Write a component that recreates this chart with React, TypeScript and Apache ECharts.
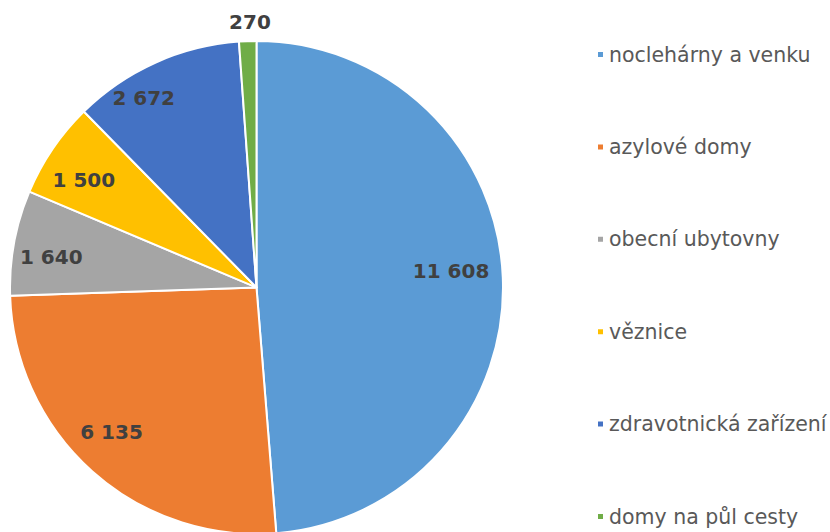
import React, { useEffect, useRef } from "react";
import * as echarts from "echarts";

const categories = [
  "noclehárny a venku",
  "azylové domy",
  "obecní ubytovny",
  "věznice",
  "zdravotnická zařízení",
  "domy na půl cesty",
];
const values = [11608, 6135, 1640, 1500, 2672, 270];
const colors = ["#5B9BD5", "#ED7D31", "#A5A5A5", "#FFC000", "#4472C4", "#70AD47"];
const labelOffsets = [[-14, -8], [-6, -11], [0, 8], [0, 10], [-27, 1], [3, 3]];
const outsideLabelIndex = 5;

const fmt = (v: number) => String(v).replace(/\B(?=(\d{3})+(?!\d))/g, " ");

export default function App() {
  const ref = useRef<HTMLDivElement>(null);
  useEffect(() => {
    if (!ref.current) return;
    const chart = echarts.init(ref.current, null, { renderer: "svg" });
    const center = [256.5, 287.5];
    const labelStyle = {
      fontFamily: "DejaVu Sans",
      fontSize: 20,
      fontWeight: "bold" as const,
      color: "#404040",
    };
    const mainData = categories.map((name, i) => ({
      name,
      value: values[i],
      itemStyle: { color: colors[i] },
    }));
    const overlayData = (show: (i: number) => boolean) =>
      categories.map((name, i) => ({
        name,
        value: values[i],
        itemStyle: { color: "transparent", borderWidth: 0 },
        label: { show: show(i), offset: labelOffsets[i] },
      }));
    chart.setOption({
      animation: false,
      legend: {
        orient: "vertical",
        left: 596,
        top: 44,
        padding: 0,
        itemWidth: 7,
        itemHeight: 7,
        itemGap: 71.4,
        icon: "rect",
        data: categories,
        textStyle: {
          fontFamily: "DejaVu Sans",
          fontSize: 20.5,
          lineHeight: 20,
          color: "#595959",
        },
      },
      series: [
        {
          type: "pie",
          center,
          radius: [0, 246.5],
          startAngle: 90,
          clockwise: true,
          silent: true,
          label: { show: false },
          labelLine: { show: false },
          itemStyle: { borderColor: "#ffffff", borderWidth: 2 },
          emphasis: { disabled: true },
          data: mainData,
        },
        {
          type: "pie",
          center,
          radius: [165, 246.5],
          startAngle: 90,
          clockwise: true,
          silent: true,
          label: {
            show: true,
            position: "inside",
            formatter: (p: any) => fmt(p.value),
            ...labelStyle,
          },
          labelLine: { show: false },
          emphasis: { disabled: true },
          data: overlayData((i) => i !== outsideLabelIndex),
        },
        {
          type: "pie",
          center,
          radius: [250, 282],
          startAngle: 90,
          clockwise: true,
          silent: true,
          label: {
            show: true,
            position: "inside",
            formatter: (p: any) => fmt(p.value),
            ...labelStyle,
          },
          labelLine: { show: false },
          emphasis: { disabled: true },
          data: overlayData((i) => i === outsideLabelIndex),
        },
      ],
    });
    return () => chart.dispose();
  }, []);
  return (
    <div
      ref={ref}
      style={{ position: "fixed", left: 0, top: 0, width: 830, height: 532, background: "#fff" }}
    />
  );
}
